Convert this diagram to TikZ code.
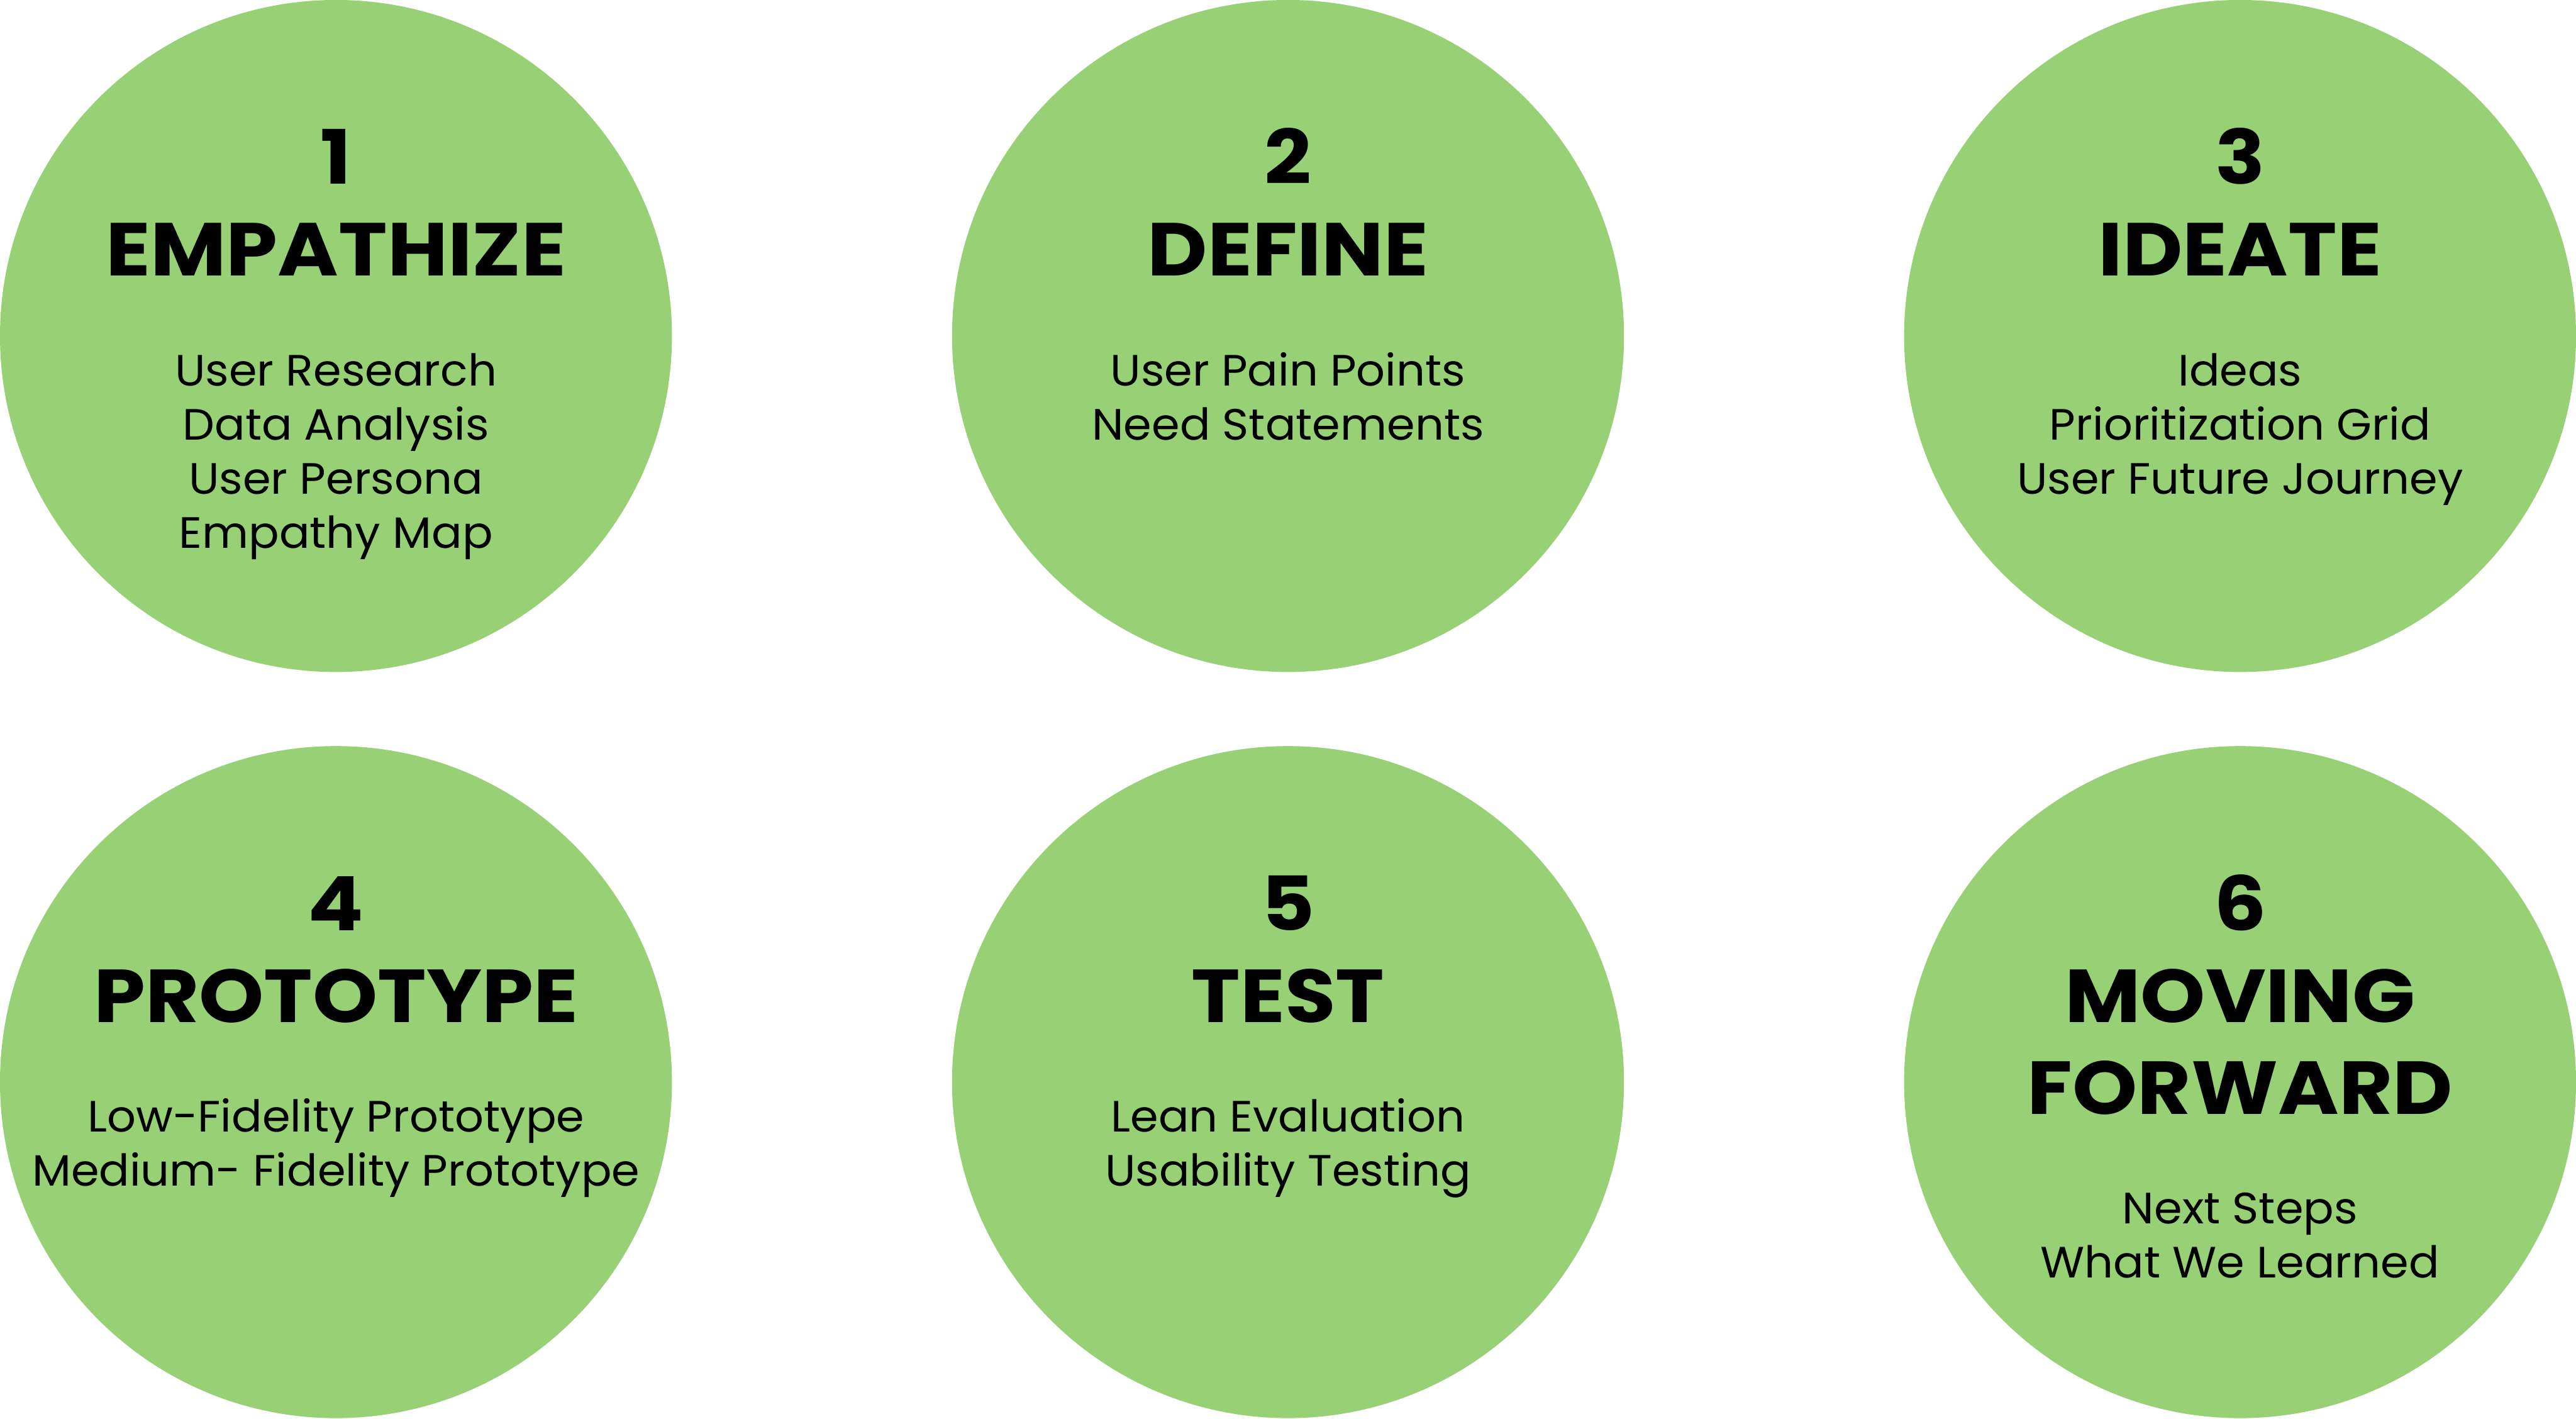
\documentclass[tikz,border=0pt]{standalone}
\usepackage{fontspec}
\setmainfont{Poppins}[FakeStretch=1.03]
\newfontfamily\headfont{Poppins}[FakeStretch=1.1]
\definecolor{phasegreen}{RGB}{152,208,117}
\tikzset{
  phase/.style={circle, fill=phasegreen, minimum size=4.09cm, inner sep=0pt},
  heading/.style={font=\headfont\bfseries\fontsize{13}{15.9}\selectfont, align=center, inner sep=0pt, anchor=base},
  items/.style={font=\fontsize{7.6}{9.39}\selectfont, align=center, inner sep=0pt, anchor=base}
}

\begin{document}
\begin{tikzpicture}
\useasboundingbox (0,0) rectangle (15.68,8.634);
% the six phases
\node[phase] (c1) at (2.045,6.589) {};
\node[phase] (c2) at (7.840,6.589) {};
\node[phase] (c3) at (13.635,6.589) {};
\node[phase] (c4) at (2.045,2.048) {};
\node[phase] (c5) at (7.840,2.048) {};
\node[phase] (c6) at (13.635,2.048) {};
% titles (base = last line)
\node[heading] (t1) at ([yshift=3.65mm]c1.center) {1\\EMPATHIZE};
\node[heading] (t2) at ([yshift=3.65mm]c2.center) {2\\DEFINE};
\node[heading] (t3) at ([yshift=3.65mm]c3.center) {3\\IDEATE};
\node[heading] (t4) at ([yshift=3.65mm]c4.center) {4\\PROTOTYPE};
\node[heading] (t5) at ([yshift=3.65mm]c5.center) {5\\TEST};
\node[heading] (t6) at ([yshift=-1.94mm]c6.center) {6\\MOVING\\FORWARD};
% what each phase holds
\node[items] (b1) at ([yshift=-12.93mm]c1.center) {User Research\\Data Analysis\\User Persona\\Empathy Map};
\node[items] (b2) at ([yshift=-6.33mm]c2.center) {User Pain Points\\Need Statements};
\node[items] (b3) at ([yshift=-9.63mm]c3.center) {Ideas\\Prioritization Grid\\User Future Journey};
\node[items] (b4) at ([yshift=-6.33mm]c4.center) {Low-Fidelity Prototype\\Medium- Fidelity Prototype};
\node[items] (b5) at ([yshift=-6.33mm]c5.center) {Lean Evaluation\\Usability Testing};
\node[items] (b6) at ([yshift=-11.92mm]c6.center) {Next Steps\\What We Learned};
\end{tikzpicture}
\end{document}
